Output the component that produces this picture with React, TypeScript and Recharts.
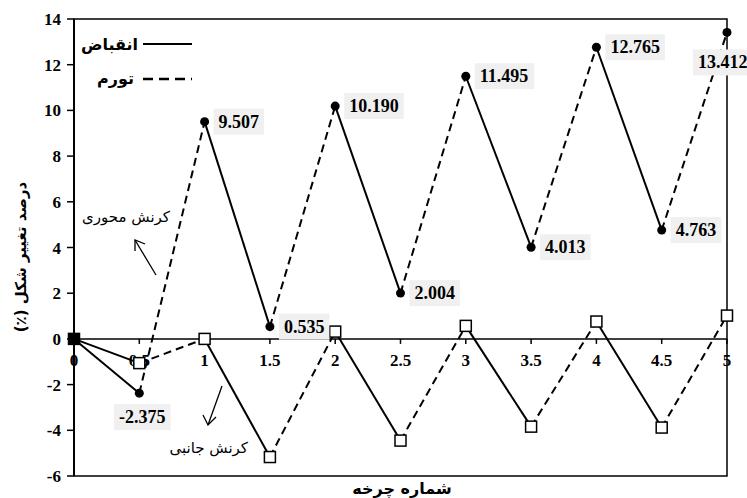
import {
  ComposedChart,
  Line,
  ReferenceArea,
  ReferenceLine,
  Scatter,
  XAxis,
  YAxis,
} from "recharts";

const cycles = [0, 0.5, 1, 1.5, 2, 2.5, 3, 3.5, 4, 4.5, 5];
const xTickLabels = ["0", "0.5", "1", "1.5", "2", "2.5", "3", "3.5", "4", "4.5", "5"];
const axialStrain = [0, -2.375, 9.507, 0.535, 10.19, 2.004, 11.495, 4.013, 12.765, 4.763, 13.412];
const axialLabels = ["", "-2.375", "9.507", "0.535", "10.190", "2.004", "11.495", "4.013", "12.765", "4.763", "13.412"];
const lateralStrain = [0, -1.06, 0, -5.17, 0.32, -4.45, 0.57, -3.84, 0.76, -3.88, 1.02];
const yTicks = [-6, -4, -2, 0, 2, 4, 6, 8, 10, 12, 14];

const W = 747;
const H = 498;
const SERIF = "'Liberation Serif', 'Times New Roman', serif";
const ARABIC = "'DejaVu Sans', 'Noto Sans', sans-serif";

// every pair of neighbouring points is its own segment: falling = contraction (solid), rising = swelling (dashed)
function toSegments(values: number[]) {
  return cycles.slice(0, -1).map((c, i) => ({
    dashed: i % 2 === 1,
    data: [
      { x: c, y: values[i] },
      { x: cycles[i + 1], y: values[i + 1] },
    ],
  }));
}

const axialPoints = cycles.map((c, i) => ({ x: c, y: axialStrain[i], label: axialLabels[i], idx: i }));
const lateralPoints = cycles.map((c, i) => ({ x: c, y: lateralStrain[i], idx: i }));
const xTickPoints = cycles.map((c, i) => ({ x: c, y: 0, label: xTickLabels[i] }));

function textWidth(s: string, size: number) {
  let w = 0;
  for (const ch of s) w += ch === "." ? 0.25 : ch === "-" ? 0.333 : 0.5;
  return w * size;
}

function AxialMarker(props: any) {
  const { cx, cy, payload } = props;
  const label: string = payload.label;
  const fs = 18;
  const bw = textWidth(label, fs) + 10;
  const bh = 26;
  let bx = cx + 9;
  let by = cy - bh / 2;
  if (payload.idx === 1) {
    bx = cx - bw / 2 + 3;
    by = cy + 11;
  } else if (payload.idx === cycles.length - 1) {
    bx = cx - 34;
    by = cy + 17;
  }
  return (
    <g>
      <circle cx={cx} cy={cy} r={4.5} fill="#000" />
      {label && (
        <g>
          <rect x={bx} y={by} width={bw} height={bh} fill="#f0f0f0" />
          <text x={bx + 5} y={by + bh / 2 + 6} fontFamily={SERIF} fontWeight="bold" fontSize={fs} fill="#000">
            {label}
          </text>
        </g>
      )}
    </g>
  );
}

function LateralMarker(props: any) {
  const { cx, cy, payload } = props;
  return (
    <rect
      x={cx - 5.5}
      y={cy - 5.5}
      width={11}
      height={11}
      fill={payload.idx === 0 ? "#000" : "#fff"}
      stroke="#000"
      strokeWidth={1.5}
    />
  );
}

function XTick(props: any) {
  const { cx, cy, payload } = props;
  return (
    <g>
      <line x1={cx} y1={cy} x2={cx} y2={cy + 5} stroke="#000" strokeWidth={1.5} />
      <text x={cx} y={cy + 27} textAnchor="middle" fontFamily={SERIF} fontWeight="bold" fontSize={17} fill="#000">
        {payload.label}
      </text>
    </g>
  );
}

function Overlay() {
  return (
    <svg width={W} height={H} style={{ position: "absolute", left: 0, top: 0, pointerEvents: "none" }}>
      {/* legend */}
      <text x={138} y={50} textAnchor="end" fontFamily={ARABIC} fontWeight="bold" fontSize={16} fill="#000">
        انقباض
      </text>
      <line x1={143} y1={44} x2={192} y2={44} stroke="#000" strokeWidth={2} />
      <text x={134} y={84} textAnchor="end" fontFamily={ARABIC} fontWeight="bold" fontSize={16} fill="#000">
        تورم
      </text>
      <line x1={143} y1={79} x2={192} y2={79} stroke="#000" strokeWidth={2.5} strokeDasharray="10 6" />

      {/* annotations */}
      <text x={170} y={222} textAnchor="end" fontFamily={ARABIC} fontSize={15} fill="#000">
        کرنش محوری
      </text>
      <line x1={156} y1={275} x2={135} y2={240} stroke="#000" strokeWidth={1.3} />
      <polyline points="135,251 135,240 145,244" fill="none" stroke="#000" strokeWidth={1.3} />

      <text x={248} y={453} textAnchor="end" fontFamily={ARABIC} fontSize={15} fill="#000">
        کرنش جانبی
      </text>
      <line x1={222} y1={386} x2={208} y2={425} stroke="#000" strokeWidth={1.3} />
      <polyline points="203,415 208,425 216,417" fill="none" stroke="#000" strokeWidth={1.3} />

      {/* axis titles */}
      <text x={402} y={494} textAnchor="middle" fontFamily={ARABIC} fontWeight="bold" fontSize={16} fill="#000">
        شماره چرخه
      </text>
      <text
        x={0}
        y={0}
        direction="rtl"
        transform="translate(26,257) rotate(-90)"
        textAnchor="middle"
        fontFamily={ARABIC}
        fontWeight="bold"
        fontSize={15}
        fill="#000"
      >
        درصد تغییر شکل (٪)
      </text>
    </svg>
  );
}

export default function App() {
  const axialSegments = toSegments(axialStrain);
  const lateralSegments = toSegments(lateralStrain);

  return (
    <div style={{ position: "absolute", left: 0, top: 0, width: W, height: H, background: "#fff" }}>
      <ComposedChart width={W} height={H} margin={{ top: 19, right: 20, bottom: 22, left: 0 }}>
        <XAxis type="number" dataKey="x" domain={[0, 5]} hide />
        <YAxis
          type="number"
          dataKey="y"
          domain={[-6, 14]}
          ticks={yTicks}
          interval={0}
          width={74}
          axisLine={{ stroke: "#000", strokeWidth: 2 }}
          tickLine={{ stroke: "#000", strokeWidth: 1.5 }}
          tickSize={7}
          tickMargin={6}
          tick={{ fill: "#000", fontFamily: SERIF, fontWeight: "bold", fontSize: 17 }}
        />
        <ReferenceArea x1={0} x2={5} y1={-6} y2={14} fill="none" stroke="#000" strokeWidth={1.5} ifOverflow="visible" />
        <ReferenceLine y={0} stroke="#000" strokeWidth={1.5} />
        {axialSegments.map((s, i) => (
          <Line
            key={`a${i}`}
            data={s.data}
            dataKey="y"
            stroke="#000"
            strokeWidth={2}
            strokeDasharray={s.dashed ? "8 5" : undefined}
            dot={false}
            activeDot={false}
            isAnimationActive={false}
          />
        ))}
        {lateralSegments.map((s, i) => (
          <Line
            key={`l${i}`}
            data={s.data}
            dataKey="y"
            stroke="#000"
            strokeWidth={2}
            strokeDasharray={s.dashed ? "8 5" : undefined}
            dot={false}
            activeDot={false}
            isAnimationActive={false}
          />
        ))}
        <Scatter data={xTickPoints} dataKey="y" shape={XTick} isAnimationActive={false} />
        <Scatter data={lateralPoints} dataKey="y" shape={LateralMarker} isAnimationActive={false} />
        <Scatter data={axialPoints} dataKey="y" shape={AxialMarker} isAnimationActive={false} />
      </ComposedChart>
      <Overlay />
    </div>
  );
}
